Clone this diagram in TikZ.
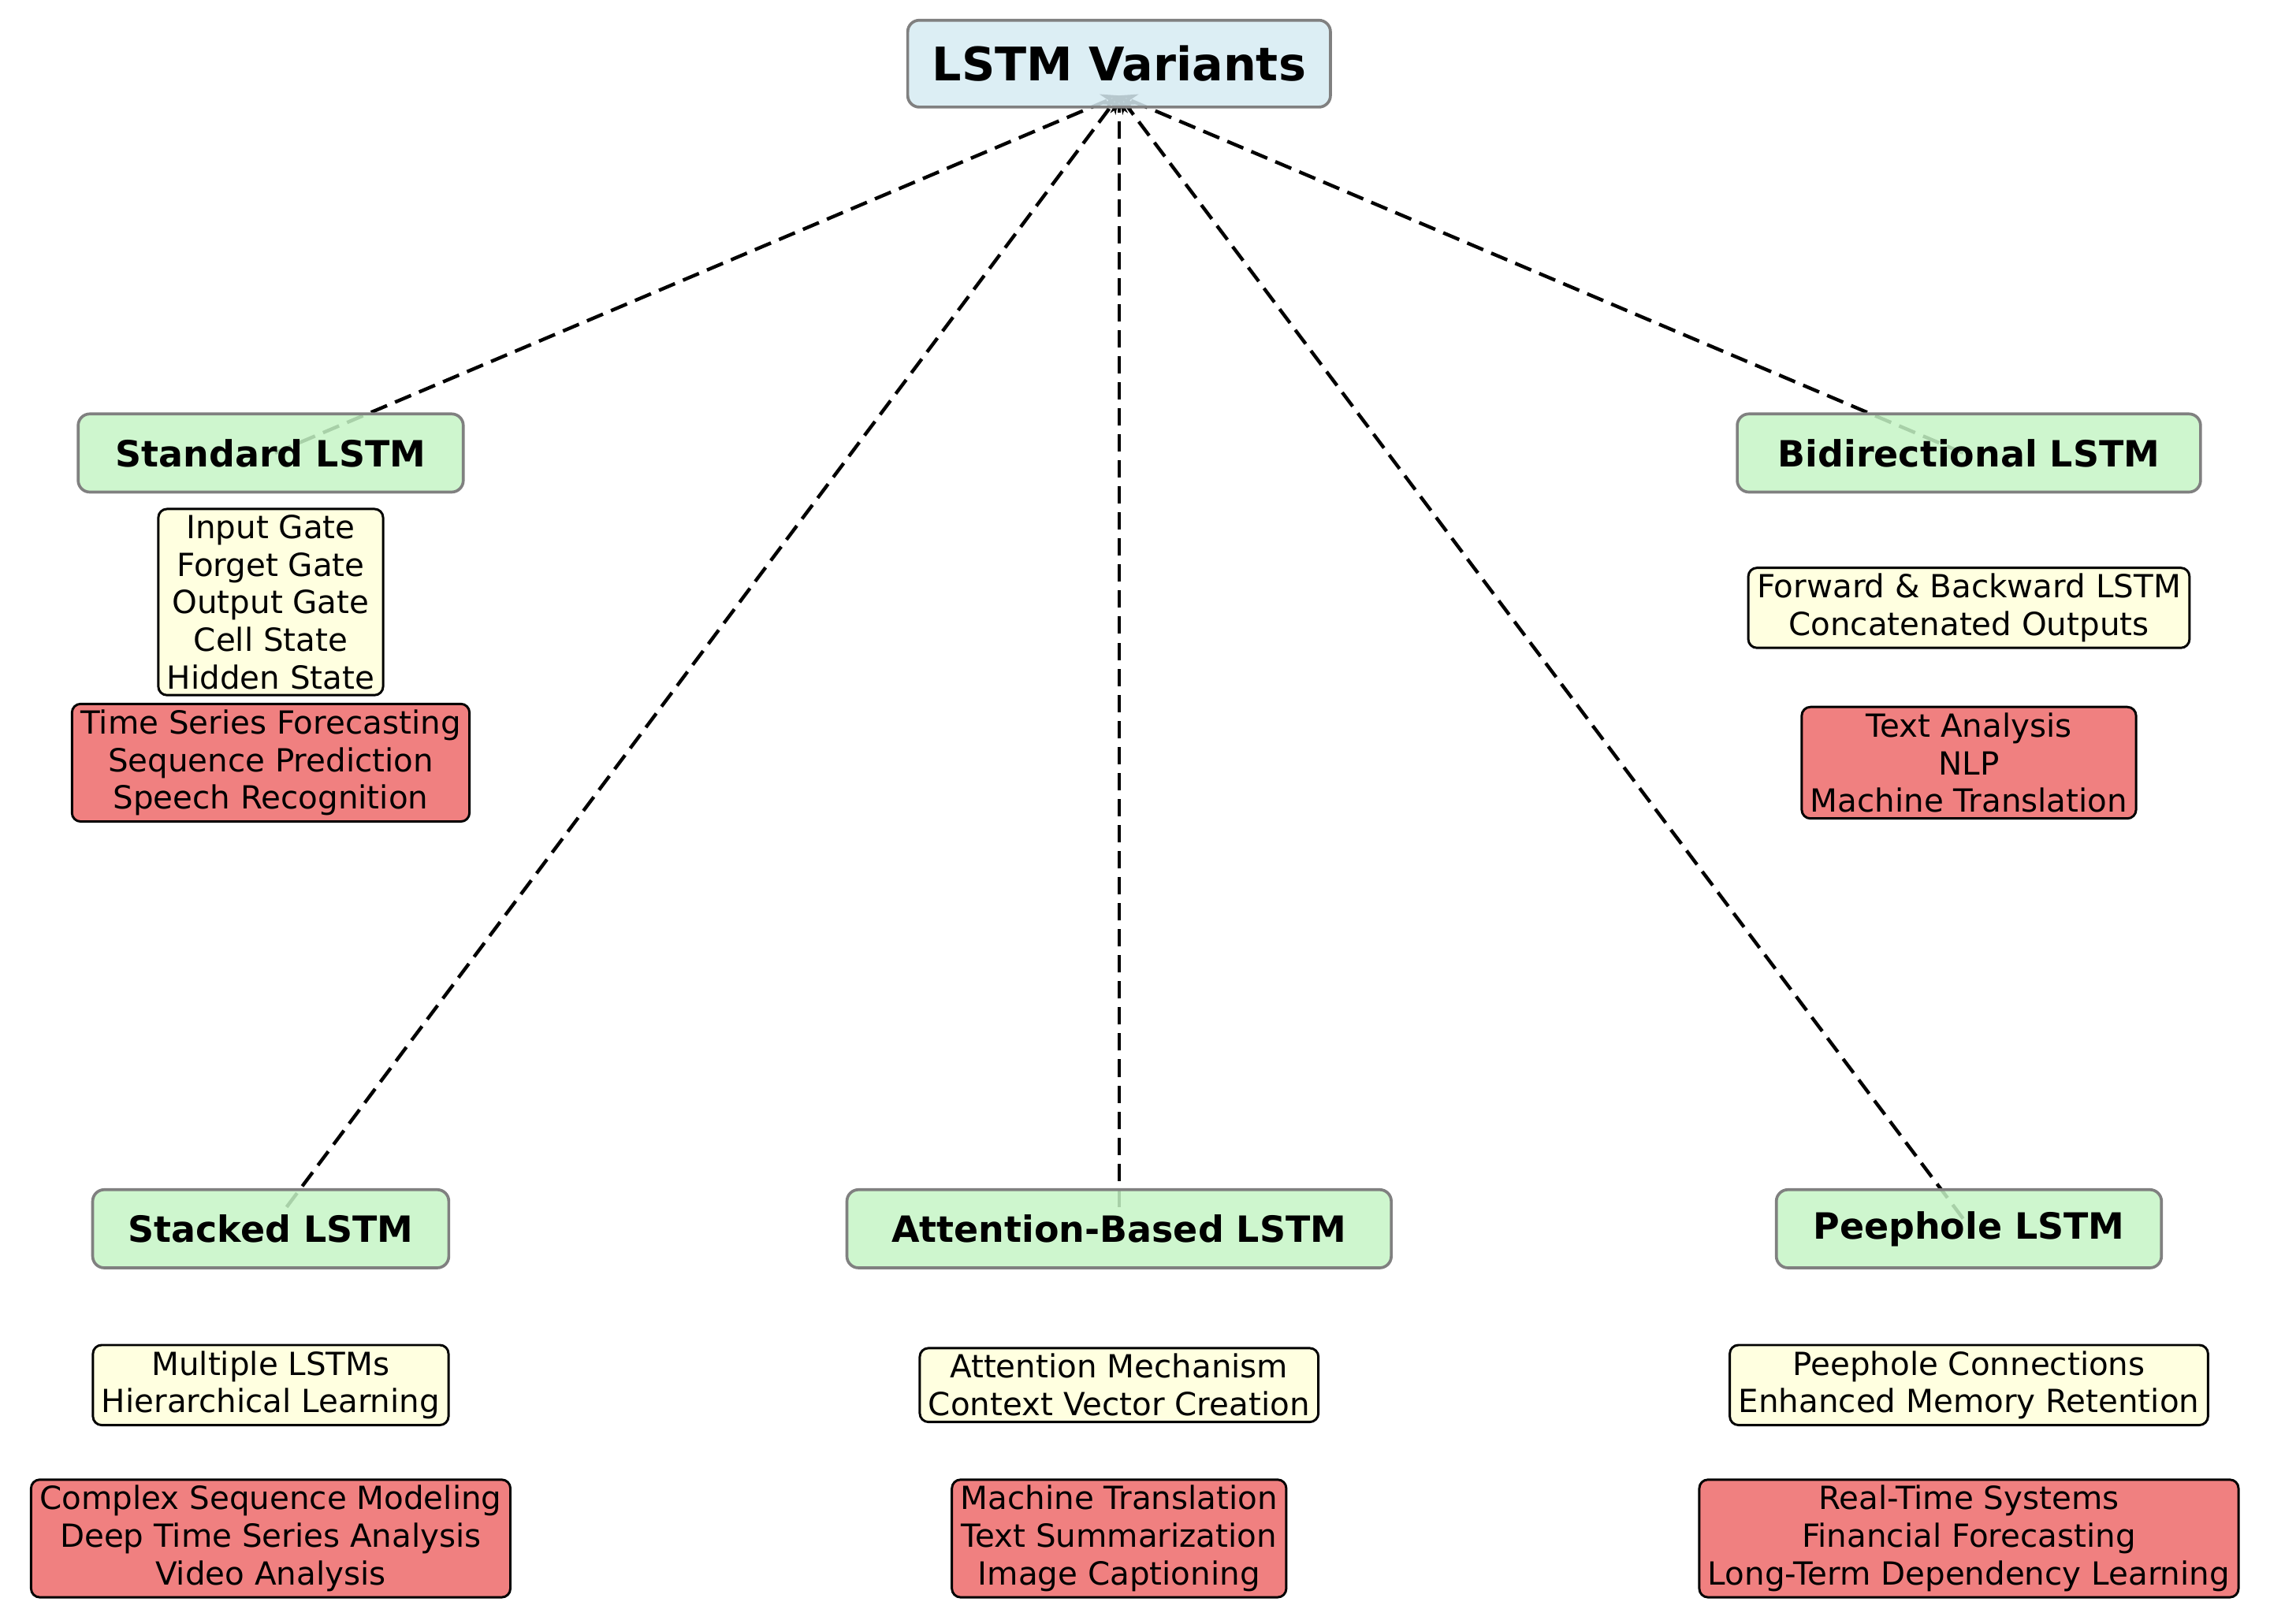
\documentclass[tikz,border=0pt]{standalone}
\usepackage{fontspec}
\setmainfont{DejaVu Sans}
\usetikzlibrary{arrows.meta}
\definecolor{rootc}{HTML}{D6EBF2}
\definecolor{varc}{HTML}{C6F5C6}
\definecolor{featc}{HTML}{FFFFE0}
\definecolor{appc}{HTML}{F08080}
\begin{document}
\begin{tikzpicture}[x=0.5pt,y=-0.5pt,
 root/.style={draw=gray,line width=1pt,rounded corners=4pt,fill=rootc,fill opacity=0.85,text opacity=1,font=\fontsize{16}{19}\selectfont\bfseries,minimum width=146pt,minimum height=30pt},
 var/.style={draw=gray,line width=1pt,rounded corners=4pt,fill=varc,fill opacity=0.85,text opacity=1,font=\fontsize{12.5}{15}\selectfont\bfseries,minimum height=27pt,inner xsep=6pt},
 feat/.style={draw=black,line width=0.8pt,rounded corners=3pt,fill=featc,align=center,font=\fontsize{11}{13}\selectfont,inner xsep=3pt,inner ysep=2pt},
 app/.style={draw=black,line width=0.8pt,rounded corners=3pt,fill=appc,align=center,font=\fontsize{11}{13}\selectfont,inner xsep=3pt,inner ysep=2pt},
 conn/.style={dashed,dash pattern=on 6pt off 3pt,line width=1.2pt,-{Stealth[length=6pt,width=6pt,fill=gray!70!black]}}]
\useasboundingbox (0,0) rectangle (1568,1122);
\coordinate (top) at (773,66);
\coordinate (s1) at (190,313);
\coordinate (s2) at (1356,313);
\coordinate (s3) at (198,834);
\coordinate (s4) at (773,834);
\coordinate (s5) at (1356,842);
\draw[conn] (s1) -- (top);
\draw[conn] (s2) -- (top);
\draw[conn] (s3) -- (top);
\draw[conn] (s4) -- (top);
\draw[conn] (s5) -- (top);
\node[root] (r) at (773,44) {LSTM Variants};
\node[var,minimum width=133pt] (std) at (187,313) {Standard LSTM};
\node[var,minimum width=160pt] (bi) at (1360,313) {Bidirectional LSTM};
\node[var,minimum width=123pt] (st) at (187,849) {Stacked LSTM};
\node[var,minimum width=188pt] (at) at (773,849) {Attention-Based LSTM};
\node[var,minimum width=133pt] (pe) at (1360,849) {Peephole LSTM};
\node[feat] (f1) at (187,416) {Input Gate\\Forget Gate\\Output Gate\\Cell State\\Hidden State};
\node[app] (a1) at (187,527) {Time Series Forecasting\\Sequence Prediction\\Speech Recognition};
\node[feat] (f2) at (1360,420) {Forward \& Backward LSTM\\Concatenated Outputs};
\node[app] (a2) at (1360,527) {Text Analysis\\NLP\\Machine Translation};
\node[feat] (f3) at (187,957) {Multiple LSTMs\\Hierarchical Learning};
\node[app] (a3) at (187,1063) {Complex Sequence Modeling\\Deep Time Series Analysis\\Video Analysis};
\node[feat] (f4) at (773,957) {Attention Mechanism\\Context Vector Creation};
\node[app] (a4) at (773,1063) {Machine Translation\\Text Summarization\\Image Captioning};
\node[feat] (f5) at (1360,957) {Peephole Connections\\Enhanced Memory Retention};
\node[app] (a5) at (1360,1063) {Real-Time Systems\\Financial Forecasting\\Long-Term Dependency Learning};
\end{tikzpicture}
\end{document}
